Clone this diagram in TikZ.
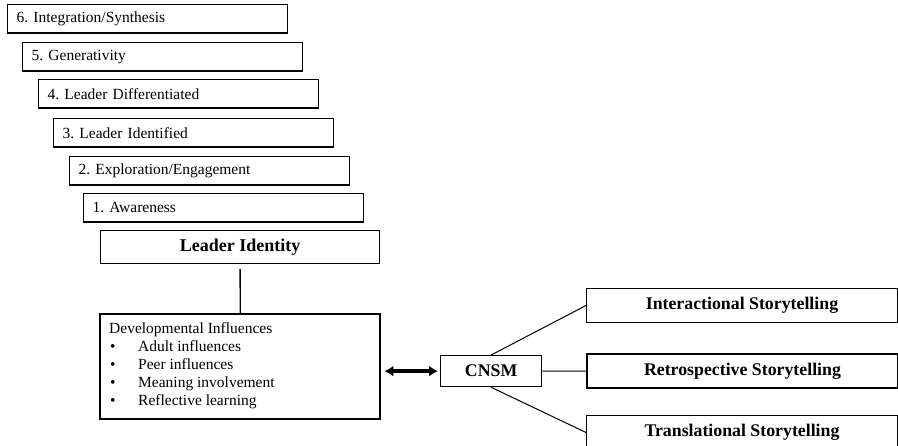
\documentclass[tikz,border=0pt]{standalone}
\usepackage{fontspec}
\setmainfont{Liberation Serif}
\frenchspacing
\usetikzlibrary{arrows.meta}
\begin{document}
\begin{tikzpicture}[x=1pt,y=-1pt,
  stage/.style={draw, line width=1.3pt, anchor=north west, minimum width=280pt, minimum height=28.5pt,
    text width=262pt, inner xsep=9pt, inner ysep=0pt, align=left, font=\fontsize{15.5}{18}\selectfont},
  leaderbox/.style={draw, line width=1.2pt, anchor=north west, minimum width=279pt, minimum height=33pt,
    inner sep=0pt, font=\fontsize{18}{20}\selectfont\bfseries},
  devbox/.style={draw, line width=2.4pt, anchor=north west, minimum width=280pt, minimum height=105pt, inner sep=0pt},
  devtext/.style={anchor=base west, inner sep=0pt, font=\fontsize{15.5}{18}\selectfont},
  cnsmbox/.style={draw, line width=1.3pt, anchor=north west, minimum width=101pt, minimum height=31pt,
    inner sep=0pt, font=\fontsize{17.8}{20}\selectfont\bfseries},
  storybox/.style={draw, line width=1pt, anchor=north west, minimum width=311pt, minimum height=34pt,
    inner sep=0pt, font=\fontsize{17.8}{20}\selectfont\bfseries},
  conn/.style={line width=1pt}
]
\useasboundingbox (0,0) rectangle (898,446);

\node[stage] (s6) at (7,4)    {6. Integration/Synthesis};
\node[stage] (s5) at (22,42)  {5. Generativity};
\node[stage] (s4) at (38,79)  {4. Leader Differentiated};
\node[stage] (s3) at (53,118) {3. Leader Identified};
\node[stage] (s2) at (69,156) {2. Exploration/Engagement};
\node[stage] (s1) at (83,193) {1. Awareness};

\node[leaderbox] (leader) at (100,230) {Leader Identity};

\node[devbox] (dev) at (99,313) {};
\node[devtext] (devt) at (109,334) {Developmental Influences};
\node[devtext] (dev1) at (110,352) {\makebox[28pt][l]{\textbullet}Adult influences};
\node[devtext] (dev2) at (110,370) {\makebox[28pt][l]{\textbullet}Peer influences};
\node[devtext] (dev3) at (110,388) {\makebox[28pt][l]{\textbullet}Meaning involvement};
\node[devtext] (dev4) at (110,406) {\makebox[28pt][l]{\textbullet}Reflective learning};

\draw[conn, line width=1.3pt, shorten <=5pt] (leader.south) -- (dev.north);

\node[cnsmbox] (cnsm) at (440,355) {CNSM};

\node[storybox] (inter) at (586,288) {Interactional Storytelling};
\node[storybox, line width=2pt] (retro) at (586,353) {Retrospective Storytelling};
\node[storybox] (trans) at (586,415) {Translational Storytelling};

\draw[line width=3.5pt, {Latex[length=9pt,width=11pt]}-{Latex[length=9pt,width=11pt]},
  shorten <=3pt, shorten >=2pt] (dev.east |- cnsm.west) -- (cnsm.west);

\draw[conn] (cnsm.north) -- (inter.west);
\draw[conn] (cnsm.east) -- (retro.west);
\draw[conn] (cnsm.south) -- (trans.west);
\end{tikzpicture}
\end{document}
